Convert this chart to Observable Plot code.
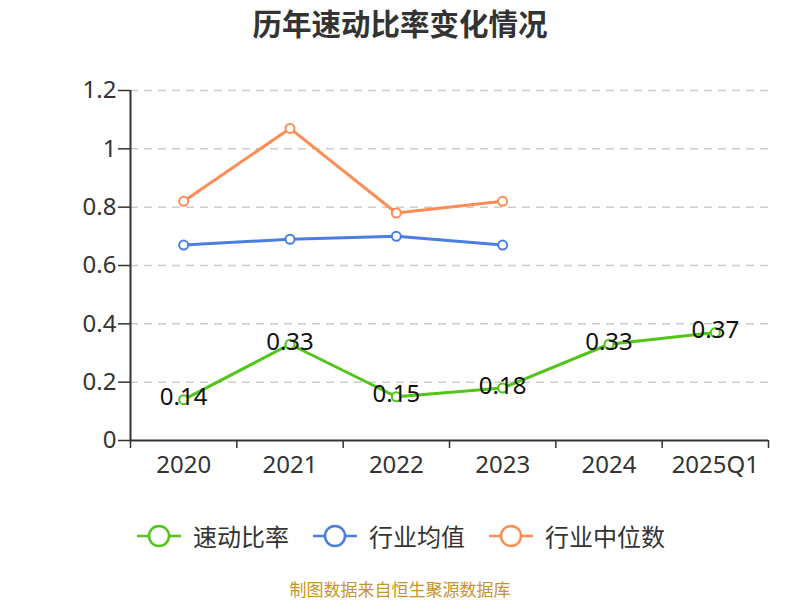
<!DOCTYPE html>
<html>
<head>
<meta charset="utf-8">
<script src="https://cdn.jsdelivr.net/npm/d3@7"></script>
<script src="https://cdn.jsdelivr.net/npm/@observablehq/plot@0.6"></script>
<style>
  body { margin: 0; background: #fff; font-family: "Noto Sans", "Noto Sans CJK SC", sans-serif; }
  #wrap { width: 800px; height: 600px; position: relative; overflow: hidden; }
  #title { position: absolute; top: 0; left: 0; width: 800px; height: 45px; line-height: 45px; text-align: center;
           font-size: 29.5px; font-weight: bold; color: #333; font-family: "Noto Sans CJK SC", sans-serif; }
  #chart { position: absolute; top: 50px; left: 0; }
  #legend { position: absolute; top: 518px; left: 0; width: 800px; display: flex; justify-content: center; gap: 22px;
            font-size: 24px; color: #333; font-family: "Noto Sans CJK SC", sans-serif; }
  .item { display: flex; align-items: center; gap: 10px; }
  #caption { position: absolute; top: 579px; left: 0; width: 800px; height: 20px; line-height: 20px; text-align: center; font-size: 17px; color: #c8932a;
             font-family: "Noto Sans CJK SC", sans-serif; }
</style>
</head>
<body>
<div id="wrap">
  <div id="title">历年速动比率变化情况</div>
  <div id="chart"></div>
  <div id="legend"></div>
  <div id="caption">制图数据来自恒生聚源数据库</div>
</div>
<script>
const categories = ["2020", "2021", "2022", "2023", "2024", "2025Q1"];
const quickRatio = [0.14, 0.33, 0.15, 0.18, 0.33, 0.37];
const industryMean = [0.67, 0.69, 0.70, 0.67];
const industryMedian = [0.82, 1.07, 0.78, 0.82];
const seriesNames = ["速动比率", "行业均值", "行业中位数"];
const seriesColors = ["#52c41a", "#4a7ee0", "#ff8c55"];
const yTicks = [0, 0.2, 0.4, 0.6, 0.8, 1, 1.2];

const toRows = (vals, s) => vals.map((v, i) => ({x: i + 0.5, cat: categories[i], y: v, s}));
const rows = [
  ...toRows(quickRatio, seriesNames[0]),
  ...toRows(industryMean, seriesNames[1]),
  ...toRows(industryMedian, seriesNames[2])
];
const fmt = v => String(v);

const plot = Plot.plot({
  width: 800,
  height: 440,
  marginTop: 40,
  marginBottom: 50,
  marginLeft: 130,
  marginRight: 32,
  style: {fontFamily: "'Noto Sans', 'Noto Sans CJK SC', sans-serif", fontSize: "24px", color: "#333", background: "transparent"},
  x: {domain: [0, categories.length], type: "linear"},
  y: {domain: [0, 1.2]},
  color: {domain: seriesNames, range: seriesColors},
  marks: [
    Plot.ruleY(yTicks.filter(t => t > 0), {stroke: "#ccc", strokeWidth: 1.5, strokeDasharray: "8,6"}),
    Plot.axisY({ticks: yTicks, tickFormat: fmt, tickSize: 12, tickPadding: 2, stroke: "#333", strokeWidth: 1.5, fill: "#333", fontSize: 24, label: null}),
    Plot.ruleX([0], {stroke: "#333", strokeWidth: 2}),
    Plot.ruleY([0], {stroke: "#333", strokeWidth: 2}),
    Plot.axisX({ticks: d3.range(categories.length + 1), tickFormat: () => "", tickSize: 8, stroke: "#333", strokeWidth: 1.5, label: null}),
    Plot.axisX({ticks: categories.map((c, i) => i + 0.5), tickFormat: v => categories[Math.round(v - 0.5)], tickSize: 0, tickPadding: 15, fill: "#333", fontSize: 24, label: null}),
    Plot.line(rows, {x: "x", y: "y", z: "s", stroke: "s", strokeWidth: 3}),
    Plot.dot(rows, {x: "x", y: "y", stroke: "s", fill: "white", r: 4.5, strokeWidth: 2}),
    Plot.text(rows.filter(d => d.s === seriesNames[0]), {x: "x", y: "y", text: d => fmt(d.y), fill: "#111", fontSize: 24, dy: -2})
  ]
});
document.getElementById("chart").appendChild(plot);

const legend = document.getElementById("legend");
seriesNames.forEach((name, i) => {
  const item = document.createElement("div");
  item.className = "item";
  const c = seriesColors[i];
  item.innerHTML = `<svg width="48" height="28"><line x1="2" y1="14" x2="46" y2="14" stroke="${c}" stroke-width="2.5"/><circle cx="24" cy="14" r="10" fill="white" stroke="${c}" stroke-width="2.5"/></svg><span>${name}</span>`;
  legend.appendChild(item);
});
</script>
</body>
</html>
